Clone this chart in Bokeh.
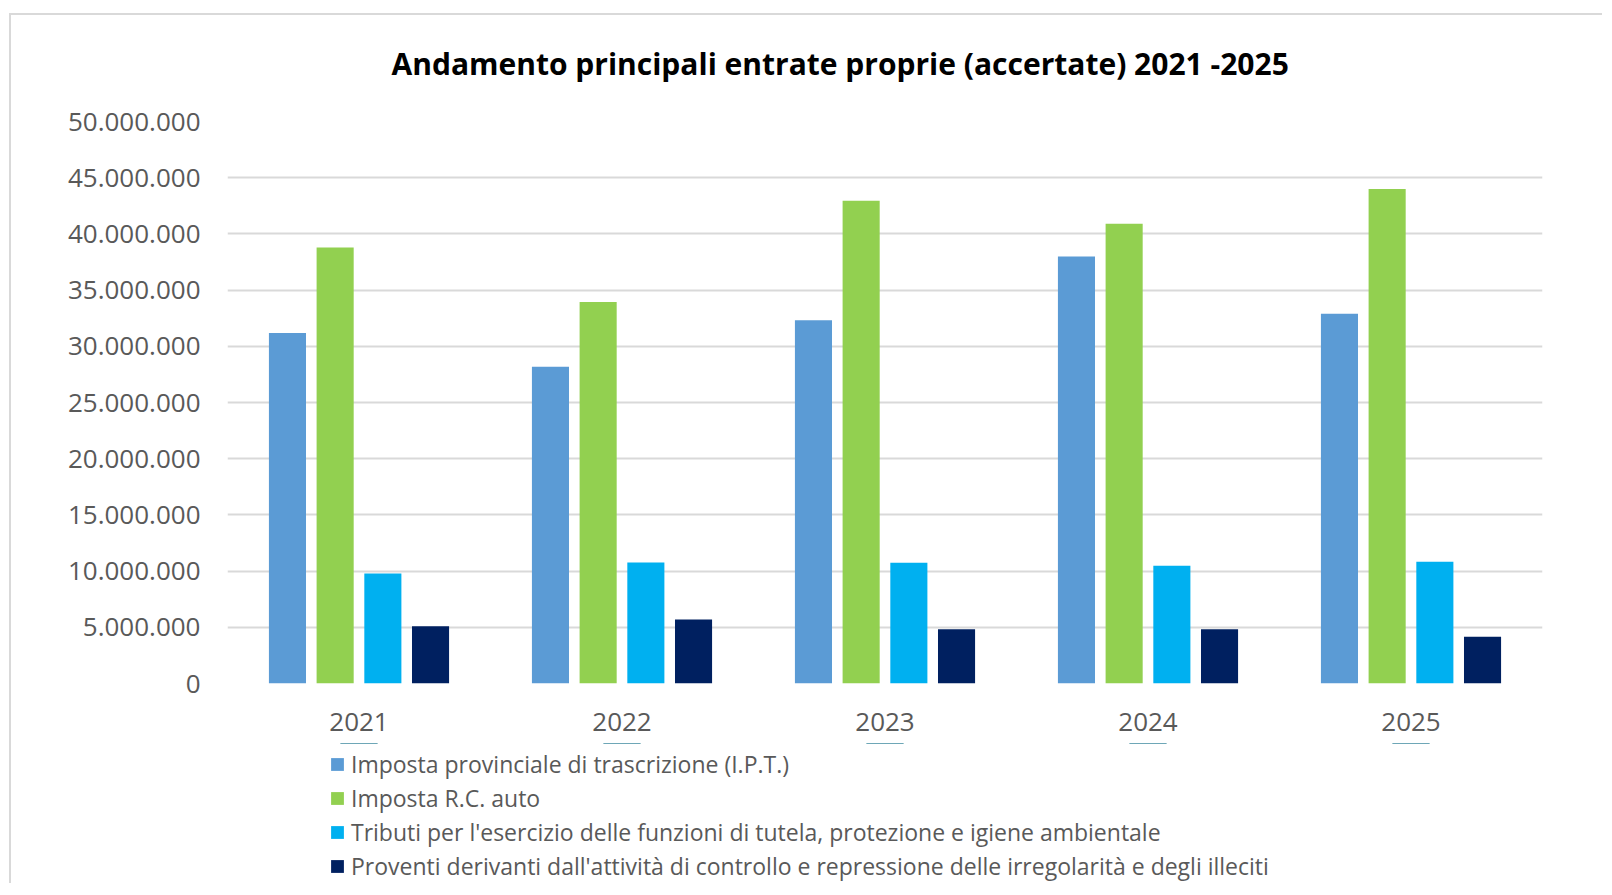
from bokeh.plotting import figure
from bokeh.models import (ColumnDataSource, FactorRange, Range1d, FixedTicker, Legend,
                          LegendItem, Title)
from bokeh.layouts import column
from bokeh.transform import dodge
from bokeh.embed import file_html
from bokeh.resources import INLINE

years = ["2021", "2022", "2023", "2024", "2025"]
ipt = [31_190_000, 28_170_000, 32_320_000, 37_980_000, 32_900_000]
rc_auto = [38_790_000, 33_950_000, 42_960_000, 40_900_000, 44_000_000]
tributi = [9_790_000, 10_770_000, 10_750_000, 10_480_000, 10_840_000]
proventi = [5_100_000, 5_690_000, 4_820_000, 4_820_000, 4_170_000]

series_labels = [
    "Imposta provinciale di trascrizione (I.P.T.)",
    "Imposta R.C. auto",
    "Tributi per l'esercizio delle funzioni di tutela, protezione e igiene ambientale",
    "Proventi derivanti dall'attività di controllo e repressione delle irregolarità e degli illeciti",
]
series_colors = ["#5B9BD5", "#92D050", "#00B0F0", "#002060"]

y_ticks = [0, 5_000_000, 10_000_000, 15_000_000, 20_000_000, 25_000_000,
           30_000_000, 35_000_000, 40_000_000, 45_000_000, 50_000_000]
y_tick_labels = ["0", "5.000.000", "10.000.000", "15.000.000", "20.000.000", "25.000.000",
                 "30.000.000", "35.000.000", "40.000.000", "45.000.000", "50.000.000"]

title_text = "Andamento principali entrate  proprie (accertate)  2021 -2025"

source = ColumnDataSource(dict(years=years, ipt=ipt, rc_auto=rc_auto,
                               tributi=tributi, proventi=proventi))

p = figure(x_range=FactorRange(*years), y_range=Range1d(0, 50_000_000),
           frame_width=1315, frame_height=562,
           min_border_left=216, min_border_right=60, min_border_top=106, min_border_bottom=60,
           output_backend="svg", toolbar_location=None, title=None)

p.add_layout(Title(text=title_text, align="left", offset=164, standoff=0,
                   padding=dict(left=0, right=0, top=0, bottom=38),
                   text_font="Open Sans", text_font_size="30px", text_font_style="bold",
                   text_color="#000000"), "above")

offsets = [-0.272, -0.0907, 0.0907, 0.272]
cols = ["ipt", "rc_auto", "tributi", "proventi"]
for col, off, color in zip(cols, offsets, series_colors):
    p.vbar(x=dodge("years", off, range=p.x_range), top=col, width=0.141,
           source=source, fill_color=color, line_color=None)

p.outline_line_color = None
p.xgrid.grid_line_color = None
p.ygrid.grid_line_color = "#d9d9d9"
p.ygrid.grid_line_width = 2

p.yaxis.ticker = FixedTicker(ticks=y_ticks)
p.yaxis.major_label_overrides = {t: l for t, l in zip(y_ticks, y_tick_labels)}
for ax in (p.xaxis[0], p.yaxis[0]):
    ax.axis_line_color = None
    ax.major_tick_line_color = None
    ax.minor_tick_line_color = None
    ax.major_tick_out = 0
    ax.major_tick_in = 0
    ax.minor_tick_out = 0
    ax.major_label_text_font = "Open Sans"
    ax.major_label_text_font_size = "26px"
    ax.major_label_text_color = "#595959"
p.yaxis.major_label_standoff = 27
p.xaxis.major_label_standoff = 29

# legend panel: a second figure holding the legend for the same series
# (its bars have zero height and lie outside its y range, so only the legend shows)
lg = figure(width=1591, height=140, x_range=FactorRange(*years),
            y_range=Range1d(-100_000_000, -50_000_000),
            min_border_left=0, min_border_right=0, min_border_top=0, min_border_bottom=0,
            x_axis_type=None, y_axis_type=None, output_backend="svg",
            toolbar_location=None, title=None)
lg.outline_line_color = None
lg.xgrid.grid_line_color = None
lg.ygrid.grid_line_color = None
items = []
for lab, col, color in zip(series_labels, cols, series_colors):
    r = lg.vbar(x="years", top=col, bottom=col, width=0.141, source=source,
                fill_color=color, line_color=None)
    items.append(LegendItem(label=lab, renderers=[r]))

legend = Legend(items=items, location=(102, 1), orientation="vertical",
                glyph_width=16, glyph_height=16, label_standoff=6,
                label_text_font="Open Sans", label_text_font_size="23px",
                label_text_color="#595959", label_height=16, spacing=2,
                padding=0, margin=0, border_line_color=None, background_fill_alpha=0)
lg.add_layout(legend, "center")

layout = column(p, lg, spacing=0, margin=(13, 0, 0, 9),
                styles={"border-left": "2px solid #d9d9d9", "border-top": "2px solid #d9d9d9"})

open("out.html", "w").write(file_html(layout, INLINE))
